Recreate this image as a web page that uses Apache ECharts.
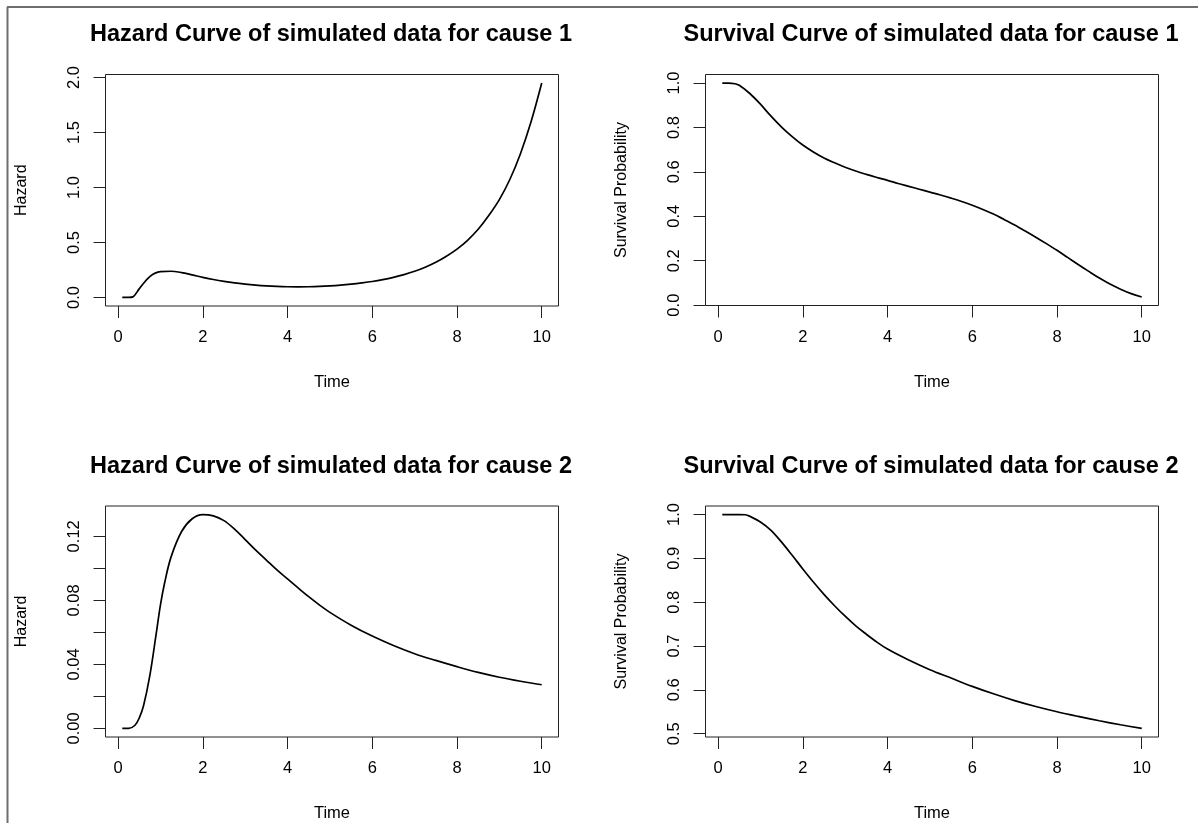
<!DOCTYPE html>
<html>
<head>
<meta charset="utf-8">
<script src="https://cdn.jsdelivr.net/npm/echarts@6/dist/echarts.min.js"></script>
<style>
  html, body { margin: 0; padding: 0; background: #fff; }
  #chart { width: 1198px; height: 823px; }
</style>
</head>
<body>
<div id="chart"></div>
<script>
// ---- Data ----
const titles = [
  'Hazard Curve of simulated data for cause 1',
  'Survival Curve of simulated data for cause 1',
  'Hazard Curve of simulated data for cause 2',
  'Survival Curve of simulated data for cause 2'
];
const xName = 'Time';
const yNames = ['Hazard', 'Survival Probability', 'Hazard', 'Survival Probability'];
const xTicks = [0, 2, 4, 6, 8, 10];

// Hazard, cause 1
const timeH1 = [0.1, 0.25, 0.35, 0.5, 0.75, 1.0, 1.25, 1.5, 1.75, 2.0, 2.25, 2.5, 2.75, 3.0, 3.25, 3.5, 3.75, 4.0, 4.25, 4.5, 4.75, 5.0, 5.25, 5.5, 5.75, 6.0, 6.25, 6.5, 6.75, 7.0, 7.25, 7.5, 7.75, 8.0, 8.25, 8.5, 8.75, 9.0, 9.25, 9.5, 9.75, 10.0];
const hazard1 = [0, 0.0, 0.005, 0.078, 0.19, 0.235, 0.238, 0.226, 0.205, 0.183, 0.163, 0.146, 0.132, 0.121, 0.112, 0.105, 0.100, 0.097, 0.096, 0.097, 0.100, 0.105, 0.112, 0.121, 0.132, 0.145, 0.162, 0.183, 0.208, 0.238, 0.275, 0.320, 0.375, 0.44, 0.52, 0.62, 0.745, 0.89, 1.075, 1.31, 1.60, 1.95];

// Survival, cause 1
const timeS1 = [0.1, 0.25, 0.4, 0.5, 0.75, 1.0, 1.25, 1.5, 1.75, 2.0, 2.25, 2.5, 2.75, 3.0, 3.25, 3.5, 3.75, 4.0, 4.25, 4.5, 4.75, 5.0, 5.25, 5.5, 5.75, 6.0, 6.25, 6.5, 6.75, 7.0, 7.25, 7.5, 7.75, 8.0, 8.25, 8.5, 8.75, 9.0, 9.25, 9.5, 9.75, 10.0];
const survival1 = [1.0, 1.0, 0.997, 0.99, 0.953, 0.905, 0.851, 0.802, 0.759, 0.721, 0.69, 0.663, 0.641, 0.621, 0.604, 0.589, 0.575, 0.562, 0.548, 0.535, 0.522, 0.509, 0.496, 0.482, 0.467, 0.450, 0.431, 0.410, 0.386, 0.361, 0.334, 0.306, 0.277, 0.247, 0.215, 0.183, 0.152, 0.122, 0.095, 0.072, 0.052, 0.037];

// Hazard, cause 2
const timeH2 = [0.1, 0.25, 0.4, 0.5, 0.6, 0.75, 0.9, 1.0, 1.1, 1.25, 1.5, 1.75, 2.0, 2.25, 2.5, 2.75, 3.0, 3.25, 3.5, 3.75, 4.0, 4.25, 4.5, 4.75, 5.0, 5.5, 6.0, 6.5, 7.0, 7.5, 8.0, 8.5, 9.0, 9.5, 10.0];
const hazard2 = [0, 0, 0.002, 0.0065, 0.014, 0.033, 0.059, 0.077, 0.091, 0.107, 0.123, 0.131, 0.1336, 0.1328, 0.1298, 0.1245, 0.1180, 0.1114, 0.1052, 0.0990, 0.0934, 0.0878, 0.0823, 0.0772, 0.0725, 0.0645, 0.0577, 0.0518, 0.0467, 0.0425, 0.0386, 0.0350, 0.0320, 0.0295, 0.0273];

// Survival, cause 2
const timeS2 = [0.1, 0.25, 0.5, 0.65, 0.75, 1.0, 1.25, 1.5, 1.75, 2.0, 2.25, 2.5, 2.75, 3.0, 3.25, 3.5, 3.75, 4.0, 4.5, 5.0, 5.5, 6.0, 6.5, 7.0, 7.5, 8.0, 8.5, 9.0, 9.5, 10.0];
const survival2 = [1.0, 1.0, 1.0, 0.9995, 0.996, 0.983, 0.964, 0.937, 0.907, 0.876, 0.846, 0.818, 0.792, 0.768, 0.746, 0.727, 0.709, 0.693, 0.668, 0.646, 0.627, 0.608, 0.591, 0.5755, 0.562, 0.550, 0.5394, 0.5295, 0.5204, 0.512];

const yTicks = [
  [0, 0.5, 1.0, 1.5, 2.0],
  [0, 0.2, 0.4, 0.6, 0.8, 1.0],
  [0, 0.02, 0.04, 0.06, 0.08, 0.10, 0.12],
  [0.5, 0.6, 0.7, 0.8, 0.9, 1.0]
];
const yLabelTicks = [
  [0, 0.5, 1.0, 1.5, 2.0],
  [0, 0.2, 0.4, 0.6, 0.8, 1.0],
  [0, 0.04, 0.08, 0.12],
  [0.5, 0.6, 0.7, 0.8, 0.9, 1.0]
];
const yDecimals = [1, 1, 2, 1];

// ---- Chart ----
const xs = [timeH1, timeS1, timeH2, timeS2];
const ys = [hazard1, survival1, hazard2, survival2];

// R-style range: data range extended by 4% on each side
function rRange(arr) {
  const lo = Math.min(...arr), hi = Math.max(...arr);
  const d = (hi - lo) * 0.04;
  return [lo - d, hi + d];
}

const FONT = "'Liberation Sans', Arial, sans-serif";
const grids = [
  { left: 105.5, top: 74.5, width: 453, height: 231.5 },
  { left: 705.5, top: 74.5, width: 453, height: 231 },
  { left: 105.5, top: 506, width: 453, height: 231.5 },
  { left: 705.5, top: 506, width: 453, height: 231.5 }
];

const option = {
  animation: false,
  backgroundColor: '#ffffff',
  title: grids.map((g, i) => ({
    text: titles[i],
    left: g.left + g.width / 2 - 6,
    top: i < 2 ? 18 : 450,
    textAlign: 'center',
    textStyle: { fontFamily: FONT, fontWeight: 'bold', fontSize: 23.5, color: '#000' }
  })),
  grid: grids.map(g => Object.assign({
    show: true, borderColor: '#222', borderWidth: 1, backgroundColor: 'transparent'
  }, g)),
  xAxis: grids.map((g, i) => {
    const r = rRange(xs[i]);
    return {
      type: 'value', gridIndex: i, min: r[0], max: r[1], position: 'bottom',
      name: xName, nameLocation: 'middle', nameGap: 68,
      nameTextStyle: { fontFamily: FONT, fontSize: 16.5, color: '#000' },
      axisLine: { show: false, onZero: false },
      splitLine: { show: false },
      axisTick: { show: true, inside: true, length: -12, customValues: xTicks, lineStyle: { color: '#222', width: 1 } },
      axisLabel: { show: true, margin: 23, customValues: xTicks, fontFamily: FONT, fontSize: 16.5, color: '#000',
        formatter: v => String(Math.round(v)) }
    };
  }),
  yAxis: grids.map((g, i) => {
    const r = rRange(ys[i]);
    return {
      type: 'value', gridIndex: i, min: r[0], max: r[1], position: 'left',
      name: yNames[i], nameLocation: 'middle', nameGap: 76, nameRotate: 90,
      nameTextStyle: { fontFamily: FONT, fontSize: 16, color: '#000' },
      axisLine: { show: false, onZero: false },
      splitLine: { show: false },
      axisTick: { show: true, inside: true, length: -12, customValues: yTicks[i], lineStyle: { color: '#222', width: 1 } },
      axisLabel: { show: true, margin: 23, rotate: 90, customValues: yLabelTicks[i], fontFamily: FONT, fontSize: 16.5, color: '#000',
        formatter: v => v.toFixed(yDecimals[i]) }
    };
  }),
  series: grids.map((g, i) => ({
    type: 'line', xAxisIndex: i, yAxisIndex: i,
    data: xs[i].map((t, k) => [t, ys[i][k]]),
    showSymbol: false, symbol: 'none',
    smooth: 0.35,
    lineStyle: { color: '#000', width: 1.7 },
    silent: true
  })),
  graphic: [
    { type: 'line', shape: { x1: 7.5, y1: 7, x2: 7.5, y2: 823 }, style: { stroke: '#6e6e6e', lineWidth: 2 } },
    { type: 'line', shape: { x1: 7, y1: 7, x2: 1198, y2: 7 }, style: { stroke: '#6e6e6e', lineWidth: 2 } }
  ]
};

const chart = echarts.init(document.getElementById('chart'), null, { renderer: 'canvas' });
chart.setOption(option);
</script>
</body>
</html>
